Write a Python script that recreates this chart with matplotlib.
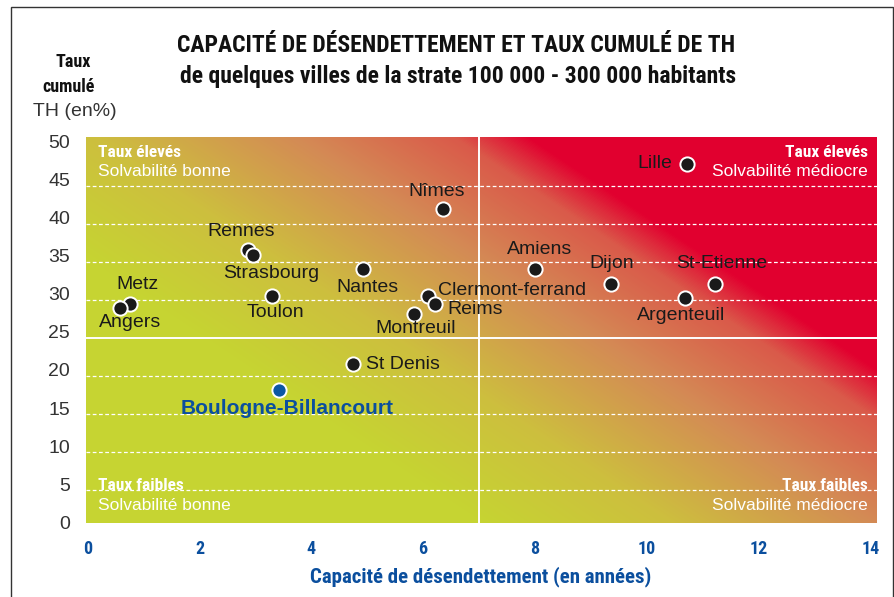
import matplotlib
matplotlib.use("Agg")
import matplotlib.pyplot as plt
from matplotlib.colors import LinearSegmentedColormap
from matplotlib.patches import Rectangle
import numpy as np

# données
villes = ["Lille", "Nîmes", "Rennes", "Strasbourg", "Nantes", "Amiens", "Dijon",
          "St-Etienne", "Argenteuil", "Metz", "Angers", "Toulon",
          "Clermont-ferrand", "Reims", "Montreuil", "St Denis"]
capacite = [10.72, 6.35, 2.86, 2.95, 4.92, 8.01, 9.36,
            11.23, 10.68, 0.75, 0.57, 3.29,
            6.08, 6.21, 5.83, 4.74]
taux = [47.1, 41.1, 35.7, 35.1, 33.3, 33.3, 31.3,
        31.3, 29.5, 28.6, 28.2, 29.7,
        29.7, 28.7, 27.4, 20.8]

boulogne_nom = "Boulogne-Billancourt"
boulogne_capacite = 3.43
boulogne_taux = 17.4

x_ticks = [0, 2, 4, 6, 8, 10, 12, 14]
y_ticks = [0, 5, 10, 15, 20, 25, 30, 35, 40, 45, 50]
seuil_x = 7
seuil_y = 25

# placement des étiquettes (décalage en pixels, alignement)
place = {
    "Lille": (-15, 0, "right"),
    "Nîmes": (-6, 18, "center"),
    "Rennes": (-6, 19, "center"),
    "Strasbourg": (19, -18, "center"),
    "Nantes": (5, -19, "center"),
    "Amiens": (4, 19, "center"),
    "Dijon": (1, 20, "center"),
    "St-Etienne": (6, 20, "center"),
    "Argenteuil": (-4, -18, "center"),
    "Metz": (8, 20, "center"),
    "Angers": (11, -15, "center"),
    "Toulon": (4, -16, "center"),
    "Clermont-ferrand": (10, 6, "left"),
    "Reims": (13, -6, "left"),
    "Montreuil": (2, -15, "center"),
    "St Denis": (13, -1, "left"),
}

REG = ["Liberation Sans", "DejaVu Sans"]
NAR = ["Roboto Condensed", "DejaVu Sans Condensed", "Liberation Sans Narrow",
       "Liberation Sans"]
bleu = "#0b4f9e"
gris = "#333333"

W, H = 895, 597
fig = plt.figure(figsize=(W / 100, H / 100), dpi=100)
fig.patch.set_facecolor("white")

ax_l, ax_b, ax_w, ax_h = 86, 74, 791, 386
ax = fig.add_axes([ax_l / W, ax_b / H, ax_w / W, ax_h / H])
xlim = (-0.03, 14.12)
ylim = (-0.1, 50.6)

# fond en dégradé diagonal vert -> rouge
cmap = LinearSegmentedColormap.from_list("fond", [
    (0.0, "#c6d432"), (0.3, "#cdbf3e"), (0.63, "#d48a55"),
    (0.88, "#da5a4a"), (1.0, "#e2002f")])
u, v = np.meshgrid(np.arange(ax_w), np.arange(ax_h))
t = (0.555 * (ax_l + u) + 0.832 * (ax_b + v) - 329) / (676 - 329)
ax.imshow(np.clip(t, 0, 1), cmap=cmap, vmin=0, vmax=1, origin="lower",
          extent=[*xlim, *ylim], aspect="auto", zorder=0, interpolation="bilinear")

# grille pointillée (légèrement décalée comme sur l'original)
for g in y_ticks[1:-1]:
    if g == seuil_y:
        continue
    ax.axhline(g - 0.8, color="white", lw=0.9, ls=(0, (3, 2)), zorder=1)
ax.axhline(seuil_y - 0.8, color="white", lw=1.4, zorder=1)
ax.axvline(seuil_x, color="white", lw=1.4, zorder=1)

ax.set_xlim(xlim)
ax.set_ylim(ylim)
for s in ax.spines.values():
    s.set_visible(False)
ax.tick_params(length=0)
ax.set_xticks(x_ticks)
ax.set_xticklabels([str(v) for v in x_ticks], family=NAR, weight="bold",
                   color=bleu, fontsize=13)
ax.tick_params(axis="x", pad=12)
ax.set_yticks(y_ticks)
ax.set_yticklabels([str(v) for v in y_ticks], family=REG, color=gris, fontsize=14)
ax.tick_params(axis="y", pad=11.5)

# points
ax.scatter(capacite, taux, s=105, color="#1a1a1a", edgecolor="white",
           linewidth=1.4, zorder=3)
ax.scatter([boulogne_capacite], [boulogne_taux], s=105, color="#0b57a4",
           edgecolor="white", linewidth=1.4, zorder=3)

for nom, xv, yv in zip(villes, capacite, taux):
    dx, dy, ha = place[nom]
    ax.annotate(nom, (xv, yv), xytext=(dx, dy), textcoords="offset pixels",
                ha=ha, va="center", fontsize=14, color="#1a1a1a", family=REG,
                zorder=4)
ax.annotate(boulogne_nom, (boulogne_capacite, boulogne_taux), xytext=(8, -19),
            textcoords="offset pixels", ha="center", va="center", fontsize=15,
            weight="bold", color=bleu, family=REG, zorder=4)

# libellés des quadrants
quad = [
    (0.015, 0.96, "left", "Taux élevés", "Solvabilité bonne"),
    (0.988, 0.96, "right", "Taux élevés", "Solvabilité médiocre"),
    (0.015, 0.096, "left", "Taux faibles", "Solvabilité bonne"),
    (0.988, 0.096, "right", "Taux faibles", "Solvabilité médiocre"),
]
for qx, qy, ha, l1, l2 in quad:
    ax.text(qx, qy, l1, transform=ax.transAxes, ha=ha, va="center",
            family=NAR, weight="bold", color="white", fontsize=12.5, zorder=4)
    ax.text(qx, qy - 0.05, l2, transform=ax.transAxes, ha=ha, va="center",
            family=REG, color="white", fontsize=12.5, zorder=4)

# titres
fig.text(456 / W, 1 - 46 / H, "CAPACITÉ DE DÉSENDETTEMENT ET TAUX CUMULÉ DE TH",
         ha="center", va="center", family=NAR, weight="bold", fontsize=17,
         color="#111111")
fig.text(458 / W, 1 - 77 / H,
         "de quelques villes de la strate 100 000 - 300 000 habitants",
         ha="center", va="center", family=NAR, weight="bold", fontsize=17,
         color="#111111")
fig.text(73 / W, 1 - 62 / H, "Taux", ha="center", va="center", family=NAR,
         weight="bold", fontsize=13, color="#111111")
fig.text(69 / W, 1 - 87 / H, "cumulé", ha="center", va="center", family=NAR,
         weight="bold", fontsize=13, color="#111111")
fig.text(75 / W, 1 - 111 / H, "TH (en%)", ha="center", va="center", family=REG,
         fontsize=14, color=gris)
fig.text(481 / W, 1 - 577 / H, "Capacité de désendettement (en années)",
         ha="center", va="center", family=NAR, weight="bold", fontsize=15,
         color=bleu)

# cadre
fig.add_artist(Rectangle((11 / W, -0.01), (893 - 11) / W, 1 - 7 / H + 0.01,
                         transform=fig.transFigure, fill=False,
                         edgecolor="#333333", lw=1))

fig.savefig("out.png", dpi=100)
